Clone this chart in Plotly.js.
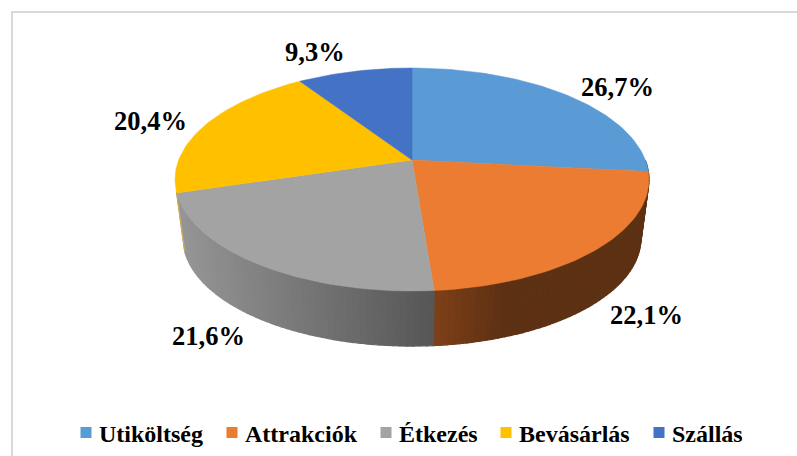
<!DOCTYPE html>
<html>
<head>
<meta charset="utf-8">
<script src="https://cdn.plot.ly/plotly-3.0.1.min.js"></script>
<style>
  html, body { margin: 0; padding: 0; background: #fff; overflow: hidden; }
  #chart { width: 797px; height: 456px; }
</style>
</head>
<body>
<div id="chart"></div>
<script>
const categories = ['Utiköltség', 'Attrakciók', 'Étkezés', 'Bevásárlás', 'Szállás'];
const values = [26.7, 22.1, 21.6, 20.4, 9.3];
const colors = ['#5b9bd5', '#eb7c31', '#a3a3a3', '#ffc000', '#4472c4'];

// fake 3d pie: a tilted disc with perspective, the axes are in screen pixels
const cx = 412, cy = 160;
const persp = 0.175, rx = 233.3, ry = 108.1;
const wallScale = 0.966, wallY = 219.5;

function rim(angle, scale, y0) {
  const w = 1 + persp * Math.cos(angle);
  return [cx + scale * rx * Math.sin(angle) / w, y0 - scale * ry * Math.cos(angle) / w];
}

function mix(a, b, t) {
  return a.map((v, i) => Math.round(v + (b[i] - v) * t));
}

// side wall colour, darker to the right like the original lighting
function wallColor(i, x) {
  let rgb = [90, 90, 90];
  if (i === 2) rgb = mix([150, 150, 150], [86, 86, 86], (x - 176) / 257);
  if (i === 1) rgb = mix([126, 64, 24], [93, 49, 19], Math.min(1, (x - 433) / 70));
  if (i === 3) rgb = [200, 170, 90];
  if (i === 0) rgb = [60, 100, 140];
  if (i === 4) rgb = [46, 76, 130];
  return `rgb(${rgb[0]},${rgb[1]},${rgb[2]})`;
}

const total = values.reduce((a, b) => a + b, 0);
const traces = [];
const tops = [];
let cum = 0;

values.forEach((v, i) => {
  const a0 = cum / total * 2 * Math.PI;
  cum += v;
  const a1 = cum / total * 2 * Math.PI;

  const xs = [cx], ys = [cy];
  const steps = Math.ceil((a1 - a0) * 40);
  for (let s = 0; s <= steps; s++) {
    const p = rim(a0 + (a1 - a0) * s / steps, 1, cy);
    xs.push(p[0]);
    ys.push(p[1]);
  }
  xs.push(cx);
  ys.push(cy);
  tops.push({
    x: xs, y: ys, type: 'scatter', mode: 'lines', fill: 'toself',
    fillcolor: colors[i], line: { color: colors[i], width: 0.5 },
    name: categories[i], showlegend: false, hoverinfo: 'skip'
  });

  // wall strips, only the front of the disc can be seen
  const from = Math.max(a0, 90 * Math.PI / 180);
  const to = Math.min(a1, 253.8 * Math.PI / 180);
  if (to > from) {
    const n = Math.ceil((to - from) * 40);
    for (let s = 0; s < n; s++) {
      const b0 = from + (to - from) * s / n;
      const b1 = from + (to - from) * (s + 1) / n;
      const p0 = rim(b0, 1, cy), p1 = rim(b1, 1, cy);
      const q0 = rim(b0, wallScale, wallY), q1 = rim(b1, wallScale, wallY);
      const col = wallColor(i, (p0[0] + p1[0]) / 2);
      traces.push({
        x: [p0[0], p1[0], q1[0], q0[0], p0[0]],
        y: [p0[1], p1[1], q1[1], q0[1], p0[1]],
        type: 'scatter', mode: 'lines', fill: 'toself',
        fillcolor: col, line: { color: col, width: 1.2 },
        showlegend: false, hoverinfo: 'skip'
      });
    }
  }
});

// marker only traces for the legend
const legendTraces = categories.map((name, i) => ({
  x: [null], y: [null], type: 'scatter', mode: 'markers', name: name,
  marker: { symbol: 'square', size: 11, color: colors[i] },
  legendwidth: [101, 109, 75, 108, 72][i]
}));

const labelX = [617.5, 646.5, 208.5, 150, 314.5];
const labelY = [87, 315, 336, 121, 52];
const annotations = values.map((v, i) => ({
  x: labelX[i], y: labelY[i], xref: 'x', yref: 'y', showarrow: false,
  text: '<b>' + v.toFixed(1).replace('.', ',') + '%</b>',
  font: { family: 'Liberation Serif', size: 26.5, color: '#000' }
}));

const layout = {
  width: 797, height: 456,
  margin: { l: 0, r: 0, t: 0, b: 0 },
  paper_bgcolor: '#fff', plot_bgcolor: '#fff',
  xaxis: { range: [0, 797], visible: false, fixedrange: true },
  yaxis: { range: [456, 0], visible: false, fixedrange: true },
  annotations: annotations,
  shapes: [
    { type: 'line', xref: 'x', yref: 'y', x0: 12, y0: 11, x1: 12, y1: 456, line: { color: '#d9d9d9', width: 2 } },
    { type: 'line', xref: 'x', yref: 'y', x0: 11, y0: 12, x1: 797, y1: 12, line: { color: '#d9d9d9', width: 2 } }
  ],
  legend: {
    orientation: 'h', x: 59 / 797, xanchor: 'left', y: 1 - 433 / 456, yanchor: 'middle',
    font: { family: 'Liberation Serif', size: 24, color: '#000', weight: 700 },
    itemclick: false, itemdoubleclick: false
  }
};

Plotly.newPlot('chart', traces.concat(tops, legendTraces), layout, { displayModeBar: false, staticPlot: true }).then(() => {
  // swatches sit closer to their text in the original
  document.querySelectorAll('.legendsymbols').forEach(el => el.setAttribute('transform', 'translate(7,0)'));
});
</script>
</body>
</html>
